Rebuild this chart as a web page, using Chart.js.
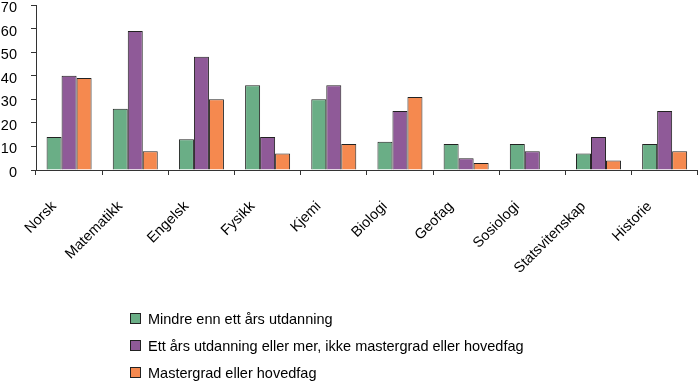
<!DOCTYPE html>
<html>
<head>
<meta charset="utf-8">
<script src="https://cdn.jsdelivr.net/npm/chart.js@4.4.0/dist/chart.umd.min.js"></script>
<style>
  body { margin: 0; background: #fff; font-family: "Liberation Sans", Arial, sans-serif; }
  #wrap { position: relative; width: 700px; height: 384px; overflow: hidden; }
  #legend { position: absolute; left: 130px; top: 305px; font-size: 14.5px; color: #000; }
  .item { display: flex; align-items: center; height: 27px; }
  .box { width: 9px; height: 9px; border: 1px solid #222; margin-right: 7px; }
</style>
</head>
<body>
<div id="wrap">
  <canvas id="chart" width="700" height="384"></canvas>
  <div id="legend"></div>
</div>
<script>
const fag = ['Norsk', 'Matematikk', 'Engelsk', 'Fysikk', 'Kjemi', 'Biologi', 'Geofag', 'Sosiologi', 'Statsvitenskap', 'Historie'];
const mindreEnnEttAar = [14, 26, 13, 36, 30, 12, 11, 11, 7, 11];
const ettAarEllerMer = [40, 59, 48, 14, 36, 25, 5, 8, 14, 25];
const mastergrad = [39, 8, 30, 7, 11, 31, 3, 0, 4, 8];
const yTicks = [0, 10, 20, 30, 40, 50, 60, 70];

const serier = [
  { label: 'Mindre enn ett års utdanning', data: mindreEnnEttAar, color: '#6aae86' },
  { label: 'Ett års utdanning eller mer, ikke mastergrad eller hovedfag', data: ettAarEllerMer, color: '#8f5a98' },
  { label: 'Mastergrad eller hovedfag', data: mastergrad, color: '#f5894f' }
];

const font = { family: '"Liberation Sans", Arial, sans-serif', size: 14.5 };

new Chart(document.getElementById('chart'), {
  type: 'bar',
  data: {
    labels: fag,
    datasets: serier.map(s => ({
      label: s.label,
      data: s.data,
      backgroundColor: s.color,
      borderColor: '#222',
      borderWidth: 1,
      barPercentage: 1.0,
      categoryPercentage: 0.68
    }))
  },
  options: {
    responsive: false,
    animation: false,
    layout: { padding: { top: 5, right: 1, bottom: 99, left: 0 } },
    plugins: { legend: { display: false }, tooltip: { enabled: false } },
    scales: {
      x: {
        grid: { display: true, drawOnChartArea: false, tickLength: 5, color: '#333', offset: true },
        border: { color: '#333', width: 1 },
        ticks: { color: '#000', font: font, minRotation: 45, maxRotation: 45, padding: 23, labelOffset: -15 },
        afterFit: axis => { axis.height = 115; axis.paddingTop = 0; }
      },
      y: {
        min: 0,
        max: 70,
        afterBuildTicks: axis => { axis.ticks = yTicks.map(v => ({ value: v })); },
        grid: { display: true, drawOnChartArea: false, tickLength: 5, color: '#333' },
        border: { color: '#333', width: 1 },
        ticks: { color: '#000', font: font, padding: 14, labelOffset: 3 },
        afterFit: axis => { axis.width = 36; axis.paddingTop = 0; axis.paddingBottom = 0; }
      }
    }
  }
});

const legend = document.getElementById('legend');
serier.forEach(s => {
  const item = document.createElement('div');
  item.className = 'item';
  const box = document.createElement('span');
  box.className = 'box';
  box.style.background = s.color;
  const txt = document.createElement('span');
  txt.textContent = s.label;
  item.appendChild(box);
  item.appendChild(txt);
  legend.appendChild(item);
});
</script>
</body>
</html>
